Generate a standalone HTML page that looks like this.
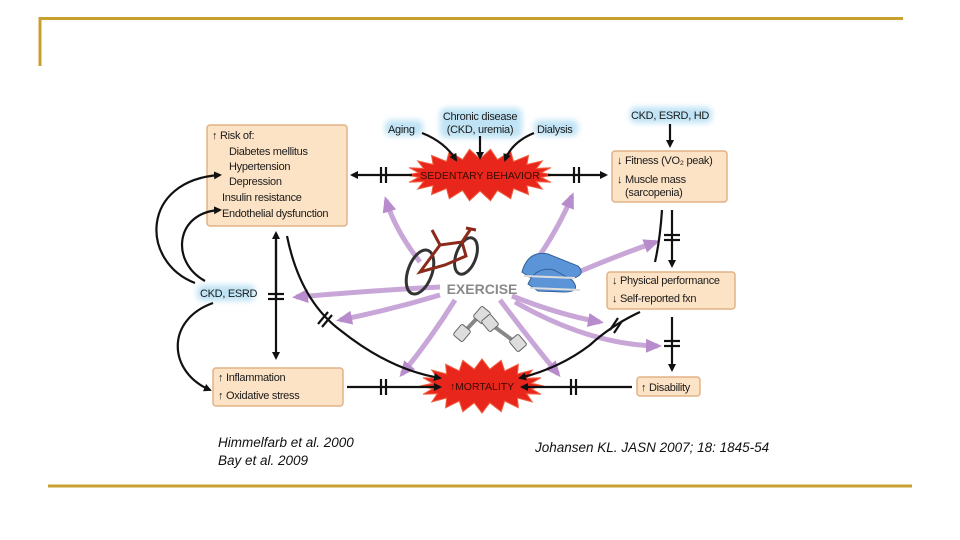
<!DOCTYPE html>
<html><head><meta charset="utf-8"><style>
html,body{margin:0;padding:0;background:#fff;width:960px;height:540px;overflow:hidden}
svg{display:block}
text{font-family:"Liberation Sans",sans-serif}
</style></head><body>
<svg id="s" width="960" height="540" viewBox="0 0 960 540" xmlns="http://www.w3.org/2000/svg">
<defs>
<marker id="ab" markerWidth="8" markerHeight="8" refX="6" refY="4" orient="auto" markerUnits="userSpaceOnUse"><path d="M0,0 L8,4 L0,8 Z" fill="#111"/></marker>
<marker id="ap" markerWidth="16" markerHeight="14" refX="12" refY="7" orient="auto" markerUnits="userSpaceOnUse"><path d="M0,0 L16,7 L0,14 Z" fill="#b88ccc"/></marker>
<filter id="bl"><feGaussianBlur stdDeviation="3"/></filter>
</defs>
<path d="M40,66 V18.5 H903" fill="none" stroke="#c8a030" stroke-width="3"/>
<line x1="48" y1="486" x2="912" y2="486" stroke="#c8a030" stroke-width="3"/>

<g fill="#bfe3f5" filter="url(#bl)">
<rect x="385" y="120" width="38" height="16" rx="6"/>
<rect x="440" y="108" width="82" height="30" rx="6"/>
<rect x="534" y="120" width="44" height="16" rx="6"/>
<rect x="630" y="107" width="82" height="16" rx="6"/>
<rect x="197" y="285" width="58" height="16" rx="6"/>
</g>

<g fill="#fde3c6" stroke="#e2b286" stroke-width="1.5">
<rect x="207" y="125" width="140" height="101" rx="3"/>
<rect x="612" y="151" width="115" height="51" rx="3"/>
<rect x="607" y="272" width="128" height="37" rx="3"/>
<rect x="213" y="368" width="130" height="38" rx="3"/>
<rect x="637" y="377" width="63" height="19" rx="3"/>
</g>

<polygon id="sb1" fill="#e8261c" stroke="#f06040" stroke-width="1"/>
<polygon id="sb2" fill="#e8261c" stroke="#f06040" stroke-width="1"/>

<g fill="none" stroke="#c9a6d8" stroke-width="5" marker-end="url(#ap)">
<path d="M420,262 Q395,230 386,200"/>
<path d="M540,255 Q560,225 572,196"/>
<path d="M440,287 Q380,290 296,297"/>
<path d="M440,295 Q390,310 340,320"/>
<path d="M455,300 Q430,340 402,374"/>
<path d="M500,300 Q530,340 558,374"/>
<path d="M560,280 Q610,258 656,242"/>
<path d="M512,296 Q560,315 600,322"/>
<path d="M515,302 Q590,345 658,346"/>
</g>

<g fill="none" stroke="#111" stroke-width="2.2">
<path d="M412,175 H352" marker-end="url(#ab)"/>
<path d="M548,175 H606" marker-end="url(#ab)"/>
<path d="M422,133 Q445,142 456,160" marker-end="url(#ab)"/>
<path d="M480,136 V158" marker-end="url(#ab)"/>
<path d="M534,133 Q512,142 505,160" marker-end="url(#ab)"/>
<path d="M670,124 V146" marker-end="url(#ab)"/>
<path d="M672,210 V266" marker-end="url(#ab)"/>
<path d="M662,210 Q660,240 655,262"/>
<path d="M672,317 V370" marker-end="url(#ab)"/>
<path d="M632,387 H522" marker-end="url(#ab)"/>
<path d="M347,387 H440" marker-end="url(#ab)"/>
<path d="M640,312 Q612,325 590,345 Q560,368 520,378" marker-end="url(#ab)"/>
<path d="M276,240 V358" marker-end="url(#ab)"/>
<path d="M276,300 V233" marker-end="url(#ab)"/>
<path d="M287,236 Q300,300 340,330 Q390,370 440,378" marker-end="url(#ab)"/>
<path d="M195,283 C140,262 140,180 220,175" marker-end="url(#ab)"/>
<path d="M205,281 C170,262 175,212 220,210" marker-end="url(#ab)"/>
<path d="M213,303 C165,320 168,372 210,390" marker-end="url(#ab)"/>
</g>
<g stroke="#111" stroke-width="2.2">
<line x1="381" y1="167" x2="381" y2="183"/><line x1="386" y1="167" x2="386" y2="183"/>
<line x1="574" y1="167" x2="574" y2="183"/><line x1="579" y1="167" x2="579" y2="183"/>
<line x1="664" y1="235" x2="680" y2="235"/><line x1="664" y1="240" x2="680" y2="240"/>
<line x1="664" y1="341" x2="680" y2="341"/><line x1="664" y1="346" x2="680" y2="346"/>
<line x1="571" y1="379" x2="571" y2="395"/><line x1="576" y1="379" x2="576" y2="395"/>
<line x1="381" y1="379" x2="381" y2="395"/><line x1="386" y1="379" x2="386" y2="395"/>
<line x1="268" y1="294" x2="284" y2="294"/><line x1="268" y1="299" x2="284" y2="299"/>
<line x1="318" y1="324" x2="328" y2="312"/><line x1="322" y1="327" x2="332" y2="315"/>
<line x1="610" y1="330" x2="618" y2="318"/><line x1="614" y1="333" x2="622" y2="321"/>
</g>

<!-- bike -->
<g fill="none" stroke="#333" stroke-width="3">
<ellipse cx="420" cy="272" rx="12" ry="23" transform="rotate(20 420 272)"/>
<ellipse cx="466" cy="256" rx="10" ry="19" transform="rotate(20 466 256)"/>
</g>
<path d="M420,272 L440,245 L462,242 L466,256 L445,265 Z M440,245 L432,230 M462,242 L470,230 M466,228 L476,230" fill="none" stroke="#8b2a1a" stroke-width="3"/>
<!-- shoes -->
<path d="M522,272 Q528,250 548,254 L578,266 Q586,274 574,278 L534,280 Z" fill="#5b95d8" stroke="#34609a"/>
<path d="M528,284 Q536,266 554,270 L572,280 Q582,292 564,292 L538,291 Z" fill="#5b95d8" stroke="#34609a"/>
<path d="M524,276 L575,278 M530,288 L580,290" stroke="#ddd" stroke-width="2"/>
<g stroke="#666" stroke-width="1" fill="#ddd">
<line x1="466" y1="330" x2="480" y2="315" stroke="#888" stroke-width="4"/>
<rect x="456" y="326" width="12" height="14" rx="2" transform="rotate(40 462 333)"/>
<rect x="476" y="308" width="12" height="14" rx="2" transform="rotate(40 482 315)"/>
<line x1="492" y1="325" x2="515" y2="342" stroke="#888" stroke-width="4"/>
<rect x="484" y="316" width="12" height="14" rx="2" transform="rotate(-40 490 323)"/>
<rect x="512" y="336" width="12" height="14" rx="2" transform="rotate(-40 518 343)"/>
</g>

<g font-size="11" fill="#1a1a1a" style="letter-spacing:-0.3px">
<text x="212" y="139">↑ Risk of:</text>
<text x="229" y="155">Diabetes mellitus</text>
<text x="229" y="170">Hypertension</text>
<text x="229" y="185">Depression</text>
<text x="222" y="201">Insulin resistance</text>
<text x="222" y="217">Endothelial dysfunction</text>
<text x="388" y="133">Aging</text>
<text x="480" y="120" text-anchor="middle">Chronic disease</text>
<text x="480" y="133" text-anchor="middle">(CKD, uremia)</text>
<text x="537" y="133">Dialysis</text>
<text x="670" y="119" text-anchor="middle">CKD, ESRD, HD</text>
<text x="200" y="297">CKD, ESRD</text>
<text x="617" y="164">↓ Fitness (VO₂ peak)</text>
<text x="617" y="183">↓ Muscle mass</text>
<text x="625" y="196">(sarcopenia)</text>
<text x="612" y="284">↓ Physical performance</text>
<text x="612" y="302">↓ Self-reported fxn</text>
<text x="218" y="381">↑ Inflammation</text>
<text x="218" y="399">↑ Oxidative stress</text>
<text x="641" y="391">↑ Disability</text>
</g>
<text x="480" y="179" text-anchor="middle" font-size="10.5" fill="#3a0a00">SEDENTARY BEHAVIOR</text>
<text x="482" y="390" text-anchor="middle" font-size="10.5" fill="#3a0a00">↑MORTALITY</text>
<text x="482" y="294" text-anchor="middle" font-size="14" font-weight="bold" fill="#8a8a8a">EXERCISE</text>

<g font-size="13.5" font-style="italic" fill="#111">
<text x="218" y="447">Himmelfarb et al. 2000</text>
<text x="218" y="465">Bay et al. 2009</text>
<text x="535" y="452">Johansen KL. JASN 2007; 18: 1845-54</text>
</g>
</svg>
<script>
function burst(id,cx,cy,rx,ry,irx,iry,n){var p=[];for(var i=0;i<2*n;i++){var a=Math.PI*i/n;var o=i%2==0;p.push((cx+Math.cos(a)*(o?rx:irx)).toFixed(1)+','+(cy+Math.sin(a)*(o?ry:iry)).toFixed(1));}document.getElementById(id).setAttribute('points',p.join(' '));}
burst('sb1',480,175,74,26,62,16,22);
burst('sb2',482,386,62,27,50,17,20);
</script>
</body></html>
